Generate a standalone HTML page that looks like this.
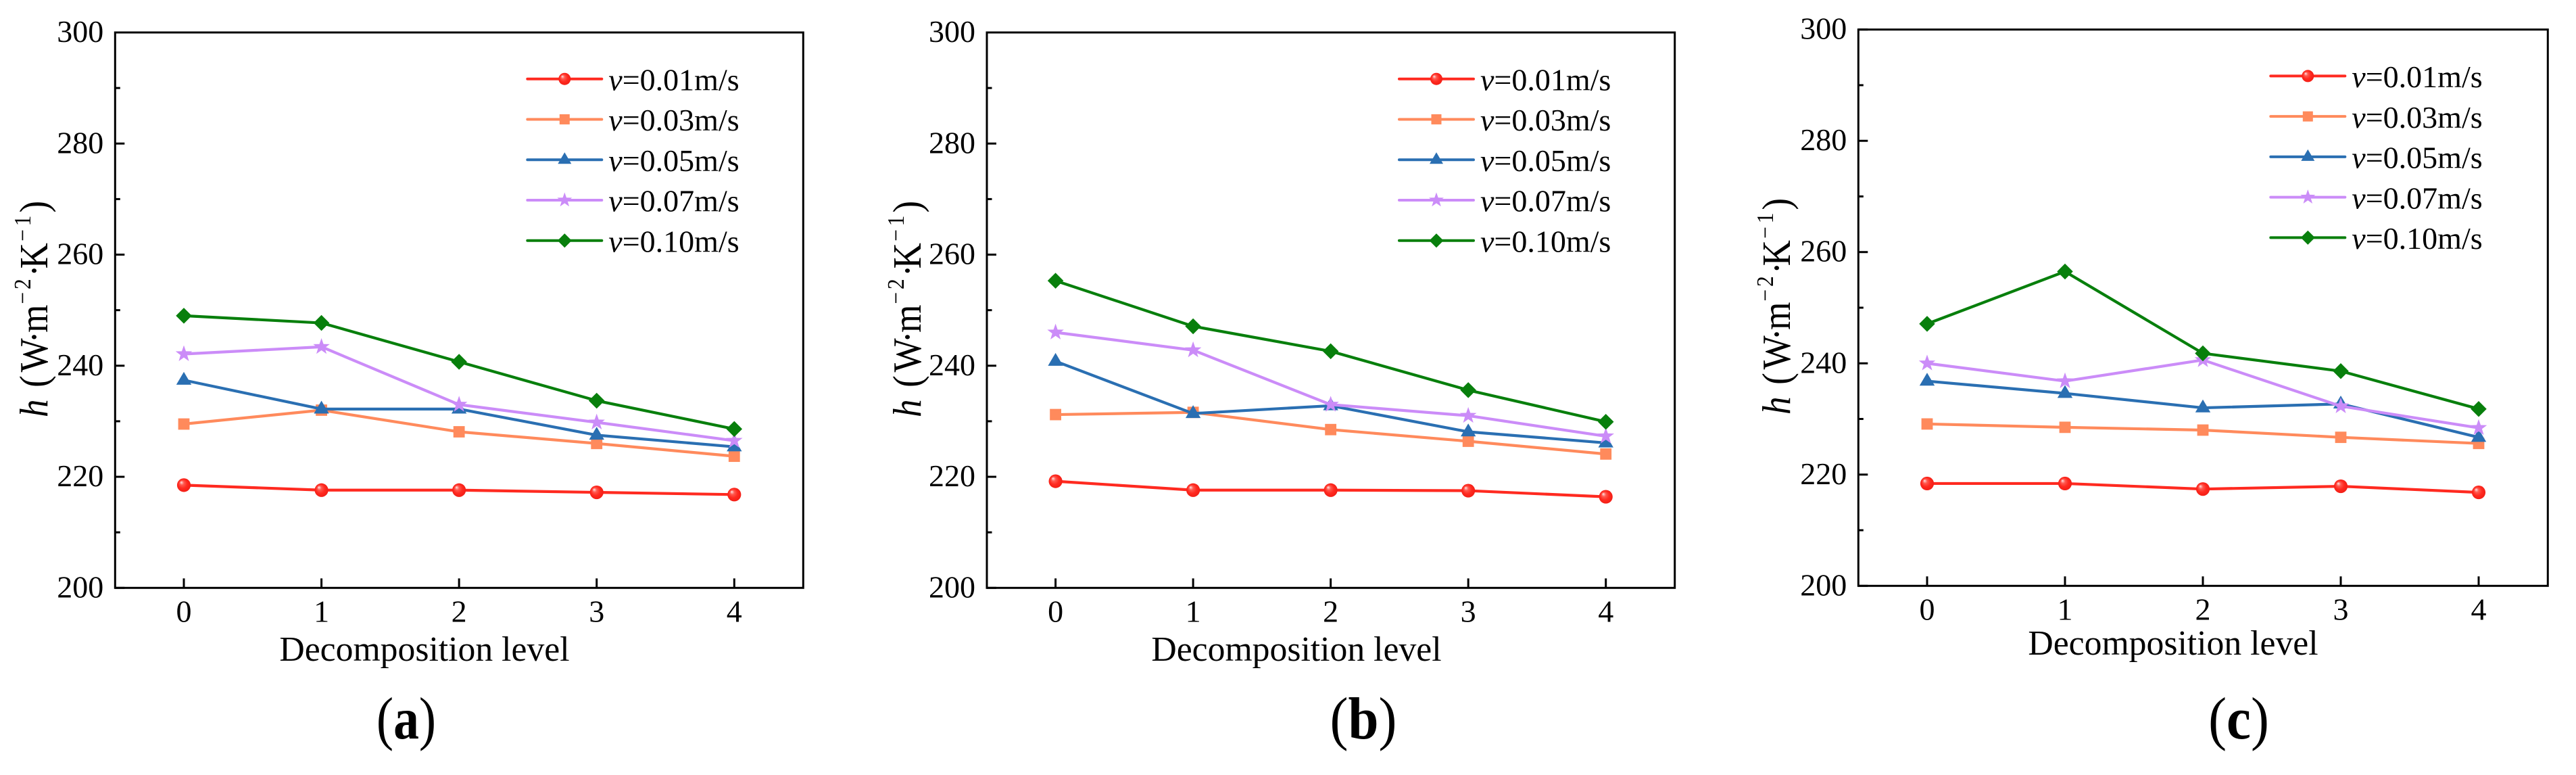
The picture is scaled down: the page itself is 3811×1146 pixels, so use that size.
<!DOCTYPE html>
<html lang="en">
<head>
<meta charset="utf-8">
<title>Heat transfer coefficient vs decomposition level</title>
<style>
html,body{margin:0;padding:0;background:#fff;}
body{width:3811px;height:1146px;overflow:hidden;}
svg{display:block;}
text{font-family:"Liberation Serif",serif;fill:#000;}
.xt{font-size:51.7px;text-anchor:middle;}
.yt{font-size:59px;}
.cap{font-size:88px;text-anchor:middle;}
</style>
</head>
<body>
<svg id="figure" xmlns="http://www.w3.org/2000/svg" width="3811" height="1146" viewBox="0 0 3811 1146">
  <defs>
    <radialGradient id="ball" cx="0.5" cy="0.5" r="0.55" fx="0.3" fy="0.28">
      <stop offset="0" stop-color="#ffe8e8"/>
      <stop offset="0.28" stop-color="#ff5a50"/>
      <stop offset="0.6" stop-color="#ff2a20"/>
      <stop offset="1" stop-color="#f01c14"/>
    </radialGradient>
  </defs>
  <rect width="3811" height="1146" fill="#ffffff"/>

  <g id="panel-a"></g>
  <g id="panel-b"></g>
  <g id="panel-c"></g>

  <text class="xt" x="628" y="977">Decomposition level</text>
  <text class="xt" x="1918" y="977">Decomposition level</text>
  <text class="xt" x="3215" y="968">Decomposition level</text>

  <text class="yt" transform="translate(70,617) rotate(-90) scale(0.9,1)"><tspan x="0" font-style="italic">h</tspan><tspan x="49">(</tspan><tspan x="74">W</tspan><tspan x="122">·</tspan><tspan x="139">m</tspan><tspan x="186" dy="-25" font-size="35">−</tspan><tspan x="210" font-size="35">2</tspan><tspan x="231" dy="25">·</tspan><tspan x="244">K</tspan><tspan x="289" dy="-25" font-size="35">−</tspan><tspan x="314" font-size="35">1</tspan><tspan x="336" dy="25">)</tspan></text>
  <text class="yt" transform="translate(1362,617) rotate(-90) scale(0.9,1)"><tspan x="0" font-style="italic">h</tspan><tspan x="49">(</tspan><tspan x="74">W</tspan><tspan x="122">·</tspan><tspan x="139">m</tspan><tspan x="186" dy="-25" font-size="35">−</tspan><tspan x="210" font-size="35">2</tspan><tspan x="231" dy="25">·</tspan><tspan x="244">K</tspan><tspan x="289" dy="-25" font-size="35">−</tspan><tspan x="314" font-size="35">1</tspan><tspan x="336" dy="25">)</tspan></text>
  <text class="yt" transform="translate(2648,613) rotate(-90) scale(0.9,1)"><tspan x="0" font-style="italic">h</tspan><tspan x="49">(</tspan><tspan x="74">W</tspan><tspan x="122">·</tspan><tspan x="139">m</tspan><tspan x="186" dy="-25" font-size="35">−</tspan><tspan x="210" font-size="35">2</tspan><tspan x="231" dy="25">·</tspan><tspan x="244">K</tspan><tspan x="289" dy="-25" font-size="35">−</tspan><tspan x="314" font-size="35">1</tspan><tspan x="336" dy="25">)</tspan></text>

  <text class="cap" transform="translate(601,1092) scale(0.86,1)">(<tspan font-weight="bold">a</tspan>)</text>
  <text class="cap" transform="translate(2017,1092) scale(0.92,1)">(<tspan font-weight="bold">b</tspan>)</text>
  <text class="cap" transform="translate(3312,1092) scale(0.92,1)">(<tspan font-weight="bold">c</tspan>)</text>
</svg>

<script>
// ---- chart data ----
const levels = [0, 1, 2, 3, 4];
const yMajorTicks = [200, 220, 240, 260, 280, 300];
const yMinorTicks = [210, 230, 250, 270, 290];
const speedLabels = ['0.01', '0.03', '0.05', '0.07', '0.10'];
const markerKinds = ['circle', 'square', 'triangle', 'star', 'diamond'];
const seriesColors = ['#ff2a20', '#ff8a5c', '#2a6fb2', '#cb8cf8', '#087f0c'];

const panelA_v001 = [218.5, 217.6, 217.6, 217.2, 216.8];
const panelA_v003 = [229.5, 232.0, 228.1, 226.0, 223.7];
const panelA_v005 = [237.4, 232.2, 232.2, 227.5, 225.4];
const panelA_v007 = [242.1, 243.4, 233.0, 229.8, 226.5];
const panelA_v010 = [249.0, 247.7, 240.7, 233.7, 228.6];

const panelB_v001 = [219.2, 217.6, 217.6, 217.5, 216.4];
const panelB_v003 = [231.2, 231.6, 228.5, 226.4, 224.1];
const panelB_v005 = [240.8, 231.4, 232.8, 228.1, 226.1];
const panelB_v007 = [246.0, 242.8, 233.0, 231.0, 227.3];
const panelB_v010 = [255.3, 247.1, 242.6, 235.6, 229.9];

const panelC_v001 = [218.4, 218.4, 217.4, 217.9, 216.8];
const panelC_v003 = [229.1, 228.5, 228.0, 226.7, 225.6];
const panelC_v005 = [236.8, 234.6, 232.0, 232.7, 226.7];
const panelC_v007 = [240.0, 236.8, 240.6, 232.3, 228.4];
const panelC_v010 = [247.1, 256.5, 241.8, 238.6, 231.8];

const NS = 'http://www.w3.org/2000/svg';

function el(parent, tag, props) {
  const node = document.createElementNS(NS, tag);
  for (const k in props) node.setAttribute(k, props[k]);
  parent.appendChild(node);
  return node;
}

function drawMarker(parent, kind, color, cx, cy, s) {
  let m;
  if (kind === 'circle') {
    m = el(parent, 'circle', {cx: cx, cy: cy, r: 9 * s, fill: 'url(#ball)'});
  } else if (kind === 'square') {
    m = el(parent, 'rect', {x: cx - 7.5 * s, y: cy - 7.5 * s, width: 15 * s, height: 15 * s, fill: color});
  } else if (kind === 'triangle') {
    const d = 'M' + cx + ' ' + (cy - 11 * s) + 'L' + (cx + 10 * s) + ' ' + (cy + 6 * s) + 'L' + (cx - 10 * s) + ' ' + (cy + 6 * s) + 'Z';
    m = el(parent, 'path', {d: d, fill: color});
  } else if (kind === 'star') {
    let d = '';
    for (let i = 0; i < 10; i++) {
      const r = (i % 2 === 0 ? 11.5 : 4.6) * s;
      const a = -Math.PI / 2 + i * Math.PI / 5;
      d += (i ? 'L' : 'M') + (cx + r * Math.cos(a)).toFixed(2) + ' ' + (cy + r * Math.sin(a)).toFixed(2);
    }
    m = el(parent, 'path', {d: d + 'Z', fill: color});
  } else {
    const d = 'M' + cx + ' ' + (cy - 10.5 * s) + 'L' + (cx + 10.5 * s) + ' ' + cy + 'L' + cx + ' ' + (cy + 10.5 * s) + 'L' + (cx - 10.5 * s) + ' ' + cy + 'Z';
    m = el(parent, 'path', {d: d, fill: color});
  }
  return m;
}

function drawPanel(id, box, series) {
  const g = document.getElementById(id);
  const xScale = v => box.x0 + (v - levels[0]) * (box.x4 - box.x0) / (levels[levels.length - 1] - levels[0]);
  const yScale = v => box.bottom - (v - 200) * (box.bottom - box.top) / 100;

  // y ticks
  yMajorTicks.forEach(t => {
    const y = yScale(t);
    const tick = el(g, 'line', {x1: box.left, x2: box.left + 14, y1: y, y2: y, stroke: '#000', 'stroke-width': 3});
    
    
    const lab = el(g, 'text', {x: box.left - 17, y: y + 14, 'font-size': 46, 'text-anchor': 'end'});
    lab.textContent = String(t);
    
    
  });
  yMinorTicks.forEach(t => {
    const y = yScale(t);
    const tick = el(g, 'line', {x1: box.left, x2: box.left + 7.5, y1: y, y2: y, stroke: '#000', 'stroke-width': 3});
    
    
  });

  // x ticks
  levels.forEach(l => {
    const x = xScale(l);
    const tick = el(g, 'line', {x1: x, x2: x, y1: box.bottom, y2: box.bottom - 14, stroke: '#000', 'stroke-width': 3});
    
    
    const lab = el(g, 'text', {x: x, y: box.bottom + 50, 'font-size': 46, 'text-anchor': 'middle'});
    lab.textContent = String(l);
    
    
  });

  // frame
  const frame = el(g, 'rect', {x: box.left, y: box.top, width: box.right - box.left, height: box.bottom - box.top, fill: 'none', stroke: '#000', 'stroke-width': 3});
  
  

  // series
  series.forEach((vals, i) => {
    const sg = el(g, 'g', {});
    
    
    const pts = vals.map((v, j) => xScale(levels[j]).toFixed(2) + ',' + yScale(v).toFixed(2)).join(' ');
    const line = el(sg, 'polyline', {points: pts, fill: 'none', stroke: seriesColors[i], 'stroke-width': 4.2, 'stroke-linejoin': 'round'});
    
    
    vals.forEach((v, j) => {
      const mark = drawMarker(sg, markerKinds[i], seriesColors[i], xScale(levels[j]), yScale(v), 1.12);
      
      
    });
  });

  // legend
  const lg = el(g, 'g', {});
  
  
  speedLabels.forEach((s, i) => {
    const y = box.top + 68.7 + i * 59.75;
    const entry = el(lg, 'g', {});
    
    
    el(entry, 'line', {x1: box.left + 610, x2: box.left + 720, y1: y, y2: y, stroke: seriesColors[i], 'stroke-width': 4, 'stroke-linecap': 'round'});
    drawMarker(entry, markerKinds[i], seriesColors[i], box.left + 665, y, 1);
    const t = el(entry, 'text', {x: box.left + 730, y: y + 16.6, 'font-size': 46});
    const v = el(t, 'tspan', {'font-style': 'italic'});
    v.textContent = 'v';
    const rest = el(t, 'tspan', {});
    rest.textContent = '=' + s + 'm/s';
  });
}

drawPanel('panel-a', {left: 170.3, right: 1188.3, top: 48, bottom: 869.3, x0: 272, x4: 1086.3},
  [panelA_v001, panelA_v003, panelA_v005, panelA_v007, panelA_v010]);
drawPanel('panel-b', {left: 1460, right: 2477.7, top: 48, bottom: 869.3, x0: 1561.6, x4: 2375.7},
  [panelB_v001, panelB_v003, panelB_v005, panelB_v007, panelB_v010]);
drawPanel('panel-c', {left: 2749.3, right: 3769.3, top: 43.7, bottom: 866.3, x0: 2851, x4: 3667},
  [panelC_v001, panelC_v003, panelC_v005, panelC_v007, panelC_v010]);
</script>
</body>
</html>
